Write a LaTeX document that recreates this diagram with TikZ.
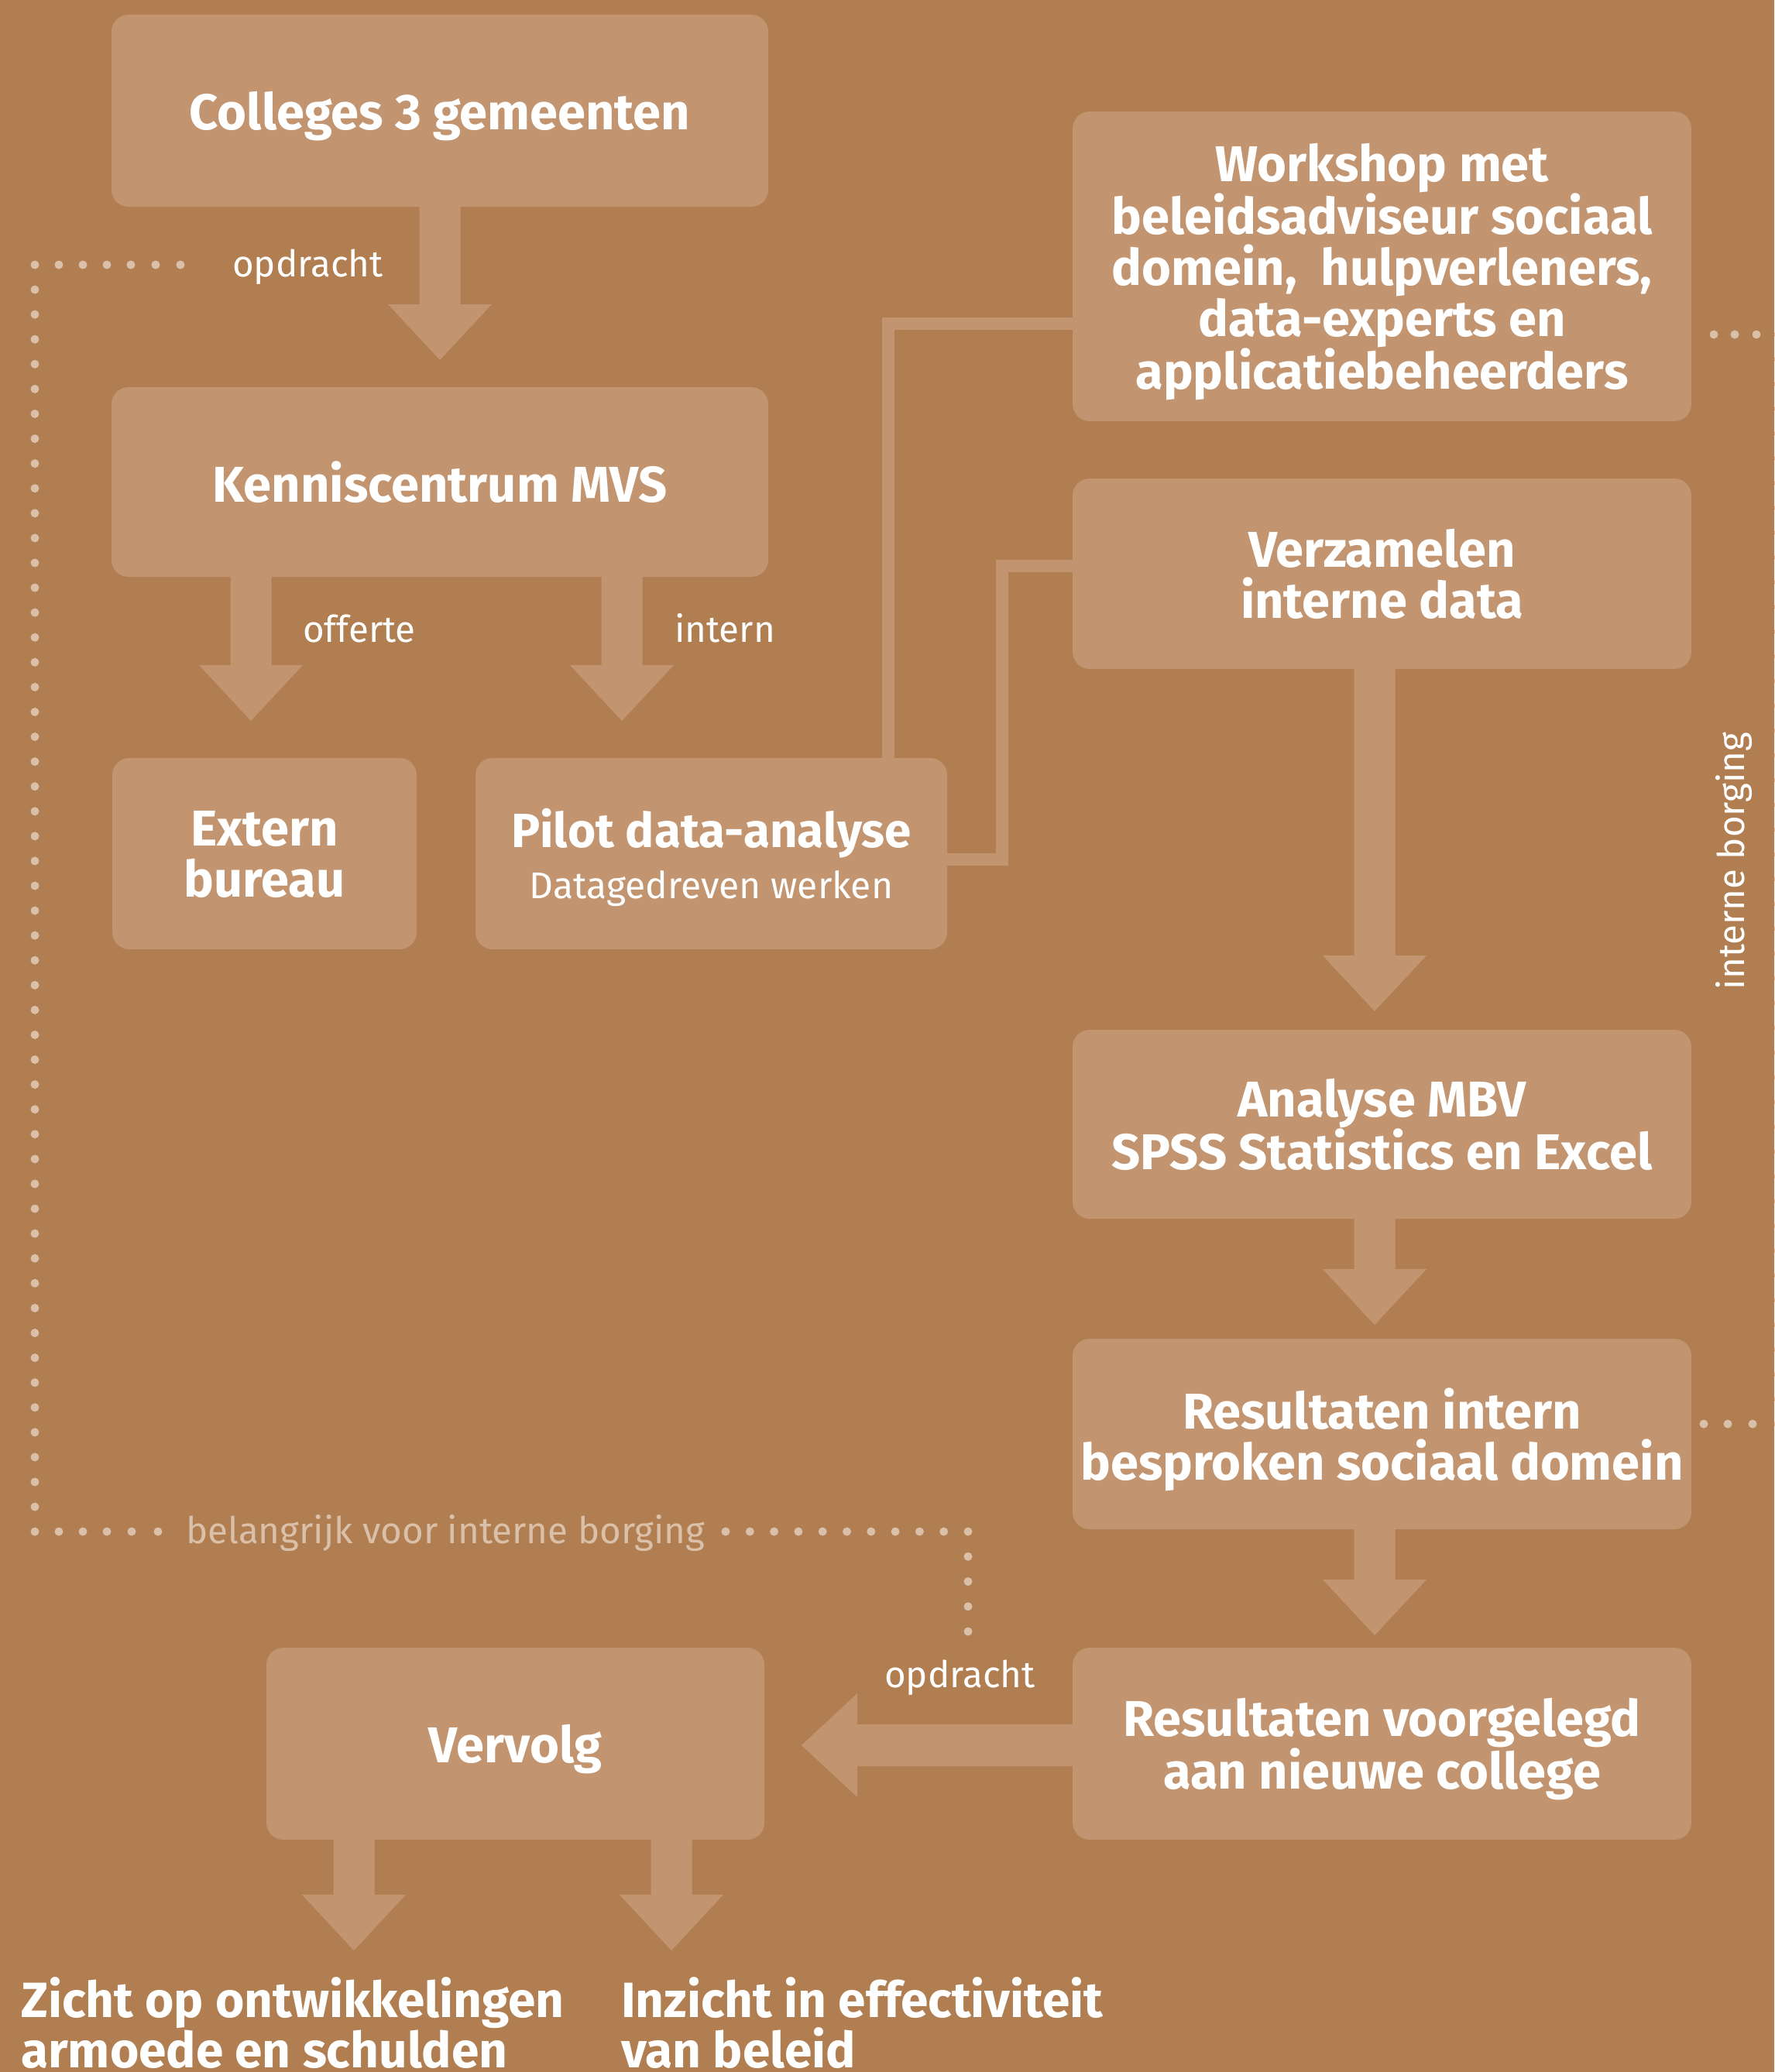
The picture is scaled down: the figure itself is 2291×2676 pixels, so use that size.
\documentclass[tikz,border=0pt]{standalone}
\usepackage{fontspec}
\setmainfont{Fira Sans}
\usetikzlibrary{calc}

\definecolor{bgbrown}{RGB}{177,126,82}
\definecolor{boxtan}{RGB}{194,149,112}
\definecolor{dotbeige}{RGB}{218,192,168}

\tikzset{
  card/.style={fill=boxtan, rounded corners=22pt, inner sep=0pt, text=white,
    align=center, text depth=0pt, font=\fontsize{65}{66}\selectfont\bfseries},
  lbl/.style={text=white, inner sep=0pt, anchor=base west,
    font=\fontsize{47.5}{55}\selectfont},
  band/.style={draw=boxtan, line width=16pt, line join=miter},
  outcome/.style={text=white, inner sep=0pt, align=left, anchor=base west,
    font=\fontsize{64}{65}\selectfont\bfseries},
  dotmark/.style={fill=dotbeige},
}

% broad block arrow pointing down from node #1 to the tip coordinate #2
\newcommand\flowdown[2]{%
  \fill[boxtan] ($(#2 |- #1.south)+(-26.5,-3)$) -- ($(#2)+(-26.5,-72)$)
    -- ($(#2)+(-67,-72)$) -- (#2) -- ($(#2)+(67,-72)$)
    -- ($(#2)+(26.5,-72)$) -- ($(#2 |- #1.south)+(26.5,-3)$) -- cycle;}
% broad block arrow pointing left from node #1 to the tip coordinate #2
\newcommand\flowleft[2]{%
  \fill[boxtan] ($(#2 -| #1.west)+(3,-27)$) -- ($(#2)+(72,-27)$)
    -- ($(#2)+(72,-67)$) -- (#2) -- ($(#2)+(72,67)$)
    -- ($(#2)+(72,27)$) -- ($(#2 -| #1.west)+(3,27)$) -- cycle;}

\begin{document}
\begin{tikzpicture}[x=1pt, y=-1pt]
\useasboundingbox (0,0) rectangle (2291,2676);
\fill[bgbrown] (0,0) rectangle (2291,2676);

% process boxes
\node[card, minimum width=848pt, minimum height=248pt] (colleges) at (568,143) {Colleges 3 gemeenten};
\node[card, minimum width=848pt, minimum height=245pt] (kennis) at (568,622.5) {Kenniscentrum MVS};
\node[card, minimum width=393pt, minimum height=247pt] (extern) at (341.5,1102.5) {Extern\\bureau};
\node[card, minimum width=609pt, minimum height=247pt] (pilot) at (918.5,1102.5)
  {\fontsize{62}{66}\selectfont Pilot data-analyse\\{\fontsize{48}{66}\selectfont\mdseries Datagedreven werken}};
\node[card, minimum width=799pt, minimum height=400pt] (workshop) at (1784.5,344)
  {Workshop met\\beleidsadviseur sociaal\\domein,\ \ hulpverleners,\\data-experts en\\applicatiebeheerders};
\node[card, minimum width=799pt, minimum height=246pt] (verzamelen) at (1784.5,741) {Verzamelen\\interne data};
\node[card, minimum width=799pt, minimum height=244pt] (analyse) at (1784.5,1452) {Analyse MBV\\SPSS Statistics en Excel};
\node[card, minimum width=799pt, minimum height=246pt] (resintern) at (1784.5,1852) {Resultaten intern\\besproken sociaal domein};
\node[card, minimum width=799pt, minimum height=248pt] (resvoor) at (1784.5,2252) {Resultaten voorgelegd\\aan nieuwe college};
\node[card, minimum width=643pt, minimum height=248pt] (vervolg) at (665.5,2252) {Vervolg};

% outcomes (anchored on the baseline of the last line)
\node[outcome] (zicht) at (27,2670) {Zicht op ontwikkelingen\\armoede en schulden};
\node[outcome] (inzicht) at (802,2670) {Inzicht in effectiviteit\\van beleid};

% block arrows
\coordinate (t1) at (568,465);
\coordinate (t2) at (324,931);
\coordinate (t3) at (803,931);
\coordinate (t4) at (1775,1306);
\coordinate (t5) at (1775,1711);
\coordinate (t6) at (1775,2112);
\coordinate (t7) at (1035,2254);
\coordinate (t8) at (457,2519);
\coordinate (t9) at (867,2519);
\flowdown{colleges}{t1}
\flowdown{kennis}{t2}
\flowdown{kennis}{t3}
\flowdown{verzamelen}{t4}
\flowdown{analyse}{t5}
\flowdown{resintern}{t6}
\flowleft{resvoor}{t7}
\flowdown{vervolg}{t8}
\flowdown{vervolg}{t9}

% thin connectors between pilot and the workshop / data collection
\coordinate (wbend) at (1147,418);
\draw[band] (wbend -| workshop.west) -- (wbend) -- (wbend |- pilot.north);
\coordinate (pbend1) at (1294,1110);
\coordinate (pbend2) at (1294,731);
\draw[band] (pbend1 -| pilot.east) -- (pbend1) -- (pbend2) -- (pbend2 -| verzamelen.west);

% arrow labels
\node[lbl] (lopdracht1) at (300,357) {opdracht};
\node[lbl] (lofferte) at (391,829) {offerte};
\node[lbl] (lintern) at (871,829) {intern};
\node[lbl] (lopdracht2) at (1142,2179) {opdracht};
\node[lbl, text=dotbeige] (lborging) at (240,1993) {belangrijk voor interne borging};
\node[lbl, anchor=base, rotate=90] (lintborg) at (2252,1112) {interne borging};

% dotted bracket on the left
\foreach \x in {233,201,169,138,107,76} \fill[dotmark] (\x,342) circle[radius=5.5pt];
\foreach \i in {0,...,51} \fill[dotmark] (45,{342+\i*32.08}) circle[radius=5.5pt];
\foreach \x in {76,107,138,170,204} \fill[dotmark] (\x,1978) circle[radius=5.5pt];
\foreach \i in {0,...,10} \fill[dotmark] ({937+\i*31.3},1978) circle[radius=5.5pt];
\foreach \i in {1,...,4} \fill[dotmark] (1250,{1978+\i*32.25}) circle[radius=5.5pt];

% dotted bracket on the right
\foreach \x in {2213,2240,2268} \fill[dotmark] (\x,432) circle[radius=5.5pt];
\foreach \i in {0,...,44} \fill[dotmark] (2296,{432+\i*31.98}) circle[radius=5.5pt];
\foreach \x in {2200,2231,2263} \fill[dotmark] (\x,1839) circle[radius=5.5pt];
\end{tikzpicture}
\end{document}
